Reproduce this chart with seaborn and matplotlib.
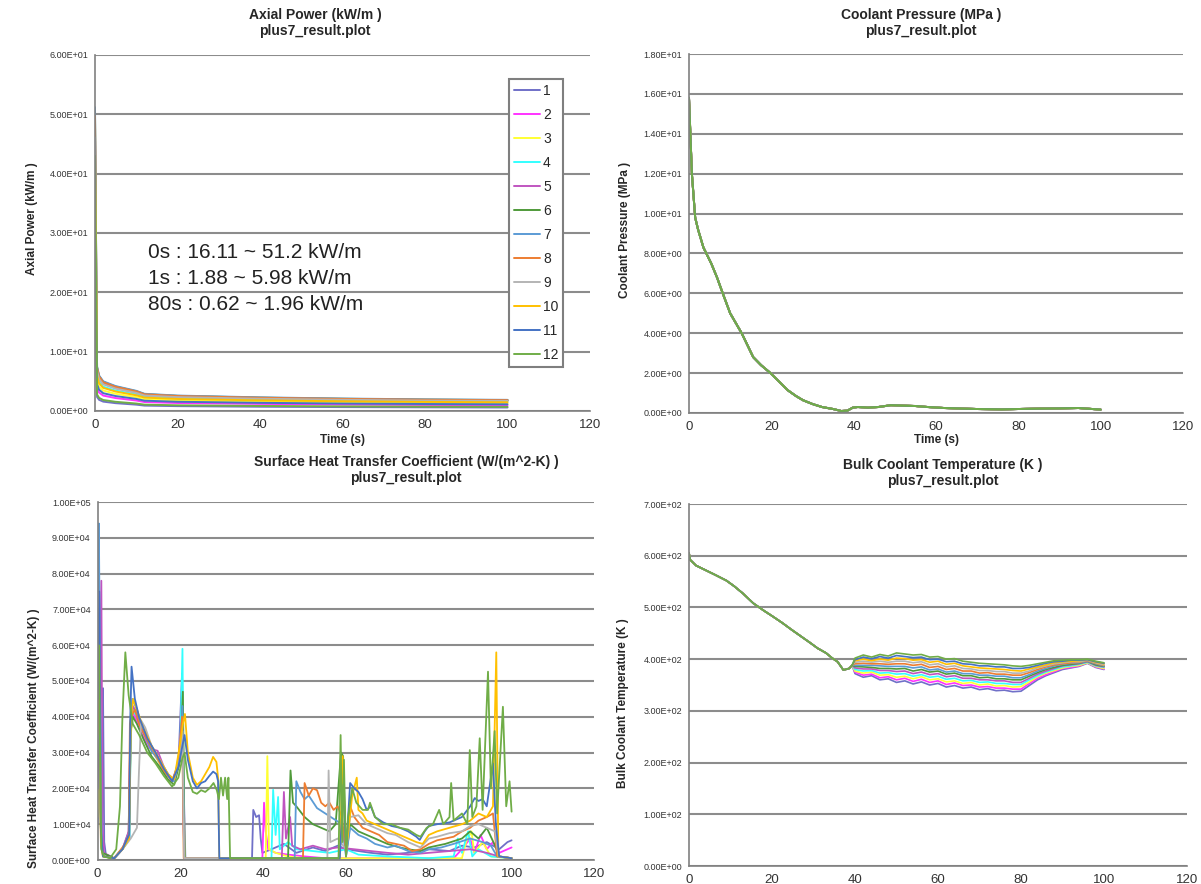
import numpy as np
import seaborn as sns
import matplotlib
matplotlib.use("Agg")
import matplotlib.pyplot as plt
from matplotlib.ticker import FuncFormatter, MultipleLocator

sns.set_style("white")
plt.rcParams['font.family'] = ['Liberation Sans', 'DejaVu Sans']

nodes = ['1', '2', '3', '4', '5', '6', '7', '8', '9', '10', '11', '12']
node_colors = ['#7070C8', '#FF33FF', '#FFFF33', '#33FFFF', '#C055C0', '#4F9A3A',
               '#5B9BD5', '#ED7D31', '#B4B4B4', '#FFC000', '#4472C4', '#70AD47']

# ---- axial power (kW/m) ----
ap_time = [0, 0.5, 1, 2, 5, 10, 12, 20, 40, 60, 80, 100]
ap_1 = [16.11, 2.36, 1.88, 1.58, 1.32, 1.07, 0.91, 0.82, 0.72, 0.66, 0.62, 0.59]
ap_2 = [26.6, 3.9, 3.11, 2.6, 2.18, 1.77, 1.51, 1.35, 1.2, 1.09, 1.02, 0.98]
ap_3 = [35.3, 5.18, 4.13, 3.45, 2.9, 2.35, 2.0, 1.79, 1.59, 1.45, 1.35, 1.3]
ap_4 = [42.0, 6.15, 4.9, 4.1, 3.44, 2.79, 2.38, 2.13, 1.89, 1.72, 1.61, 1.54]
ap_5 = [47.1, 6.9, 5.5, 4.6, 3.86, 3.13, 2.67, 2.39, 2.12, 1.93, 1.8, 1.73]
ap_6 = [50.2, 7.35, 5.86, 4.9, 4.12, 3.33, 2.84, 2.55, 2.25, 2.06, 1.92, 1.84]
ap_7 = [51.2, 7.5, 5.98, 5.0, 4.2, 3.4, 2.9, 2.6, 2.3, 2.1, 1.96, 1.88]
ap_8 = [49.7, 7.28, 5.8, 4.85, 4.07, 3.3, 2.81, 2.52, 2.23, 2.04, 1.9, 1.82]
ap_9 = [46.1, 6.75, 5.38, 4.5, 3.78, 3.06, 2.61, 2.34, 2.07, 1.89, 1.76, 1.69]
ap_10 = [39.9, 5.85, 4.66, 3.9, 3.28, 2.65, 2.26, 2.03, 1.79, 1.64, 1.53, 1.47]
ap_11 = [30.7, 4.5, 3.59, 3.0, 2.52, 2.04, 1.74, 1.56, 1.38, 1.26, 1.18, 1.13]
ap_12 = [43.0, 2.78, 2.21, 1.85, 1.55, 1.26, 1.07, 0.96, 0.85, 0.78, 0.73, 0.7]
ap_vals = [ap_1, ap_2, ap_3, ap_4, ap_5, ap_6, ap_7, ap_8, ap_9, ap_10, ap_11, ap_12]

# ---- coolant pressure (MPa), same for every node ----
p_time = [0, 0.7, 1.5, 2.2, 3.5, 5.4, 6.8, 8.2, 10, 12.8, 15.6, 17.5, 19.8, 22, 24, 26, 27.7,
          30, 32.3, 35, 37, 38.5, 39.8, 41, 43.5, 46, 49, 52, 55, 58, 62, 66.7, 70, 76, 80,
          85, 90, 94.6, 100]
p_val = [15.8, 12.0, 9.8, 9.2, 8.3, 7.5, 6.8, 6.0, 5.0, 4.0, 2.8, 2.4, 2.0, 1.55, 1.14, 0.85,
         0.64, 0.45, 0.3, 0.2, 0.1, 0.12, 0.27, 0.3, 0.27, 0.3, 0.39, 0.37, 0.35, 0.3, 0.25,
         0.22, 0.2, 0.18, 0.2, 0.22, 0.23, 0.25, 0.17]

# ---- surface heat transfer coefficient, (time, value in 1e4 W/m2-K) ----
htc_1 = [(0, 1.0), (1.0, 3.0), (1.3, 4.8), (1.6, 0.5), (2, 0.15), (4, 0.05), (6, 0.3), (7.5, 0.8),
         (7.9, 3.6), (8.3, 4.2), (9, 4.1), (10, 3.8), (12, 3.3), (14, 2.9), (16, 2.5), (18, 2.2),
         (19.5, 2.6), (20.4, 5.2), (20.8, 2.0), (21.2, 0.05), (30, 0.05), (37.3, 0.05), (37.6, 1.4),
         (38.3, 1.2), (39, 1.25), (39.4, 0.6), (39.8, 0.2), (42, 0.3), (45, 0.45), (48, 0.2),
         (52, 0.35), (55, 0.25), (58, 0.4), (60, 0.3), (63, 0.25), (66, 0.2), (70, 0.15), (75, 0.2),
         (80, 0.3), (85, 0.25), (88, 0.4), (91, 0.35), (94, 0.5), (97, 0.3), (99, 0.5), (100, 0.55)]
htc_2 = [(0, 1.5), (0.5, 3.0), (1.0, 1.0), (1.5, 0.2), (2, 0.1), (4, 0.05), (6, 0.3), (7.5, 0.7),
         (7.9, 3.4), (8.4, 4.1), (9, 4.0), (10, 3.7), (12, 3.2), (14, 2.95), (16, 2.5), (18, 2.2),
         (19.5, 2.6), (20.5, 4.2), (20.9, 0.05), (30, 0.05), (39.8, 0.05), (40.2, 1.6), (40.6, 0.8),
         (41.2, 0.3), (43, 0.2), (46, 0.15), (50, 0.1), (55, 0.05), (60, 0.05), (70, 0.05),
         (86, 0.05), (88, 0.3), (90, 0.6), (91, 0.2), (92.5, 0.7), (94, 0.3), (95.5, 0.5),
         (97, 0.2), (99, 0.3), (100, 0.35)]
htc_3 = [(0, 1.2), (0.6, 2.5), (1.0, 0.5), (1.5, 0.1), (4, 0.05), (6, 0.3), (7.6, 0.6), (8.0, 3.4),
         (8.5, 4.3), (9.5, 4.1), (11, 3.6), (13, 3.1), (15, 2.7), (17, 2.35), (18.5, 2.25),
         (20, 3.0), (20.6, 4.4), (21.0, 0.05), (30, 0.05), (40.6, 0.05), (41.0, 2.9), (41.4, 0.3),
         (43, 0.2), (46, 0.1), (50, 0.05), (70, 0.05), (88, 0.05), (89, 0.5), (90.3, 0.8),
         (91, 0.2), (93, 0.5), (95, 0.1), (100, 0.05)]
htc_4 = [(0, 2.0), (0.4, 3.5), (0.9, 0.5), (1.5, 0.1), (4, 0.05), (6, 0.3), (7.7, 0.6), (8.0, 3.8),
         (8.5, 4.2), (9.5, 4.0), (11, 3.6), (13, 3.1), (15, 2.8), (17, 2.4), (18.5, 2.2), (20, 3.2),
         (20.5, 5.9), (20.9, 0.05), (30, 0.05), (42, 0.05), (42.4, 1.96), (43, 0.7), (43.6, 1.76),
         (44, 0.3), (46, 0.5), (48, 0.3), (52, 0.25), (56, 0.2), (60, 0.3), (63, 0.15), (70, 0.1),
         (80, 0.05), (86, 0.1), (87, 0.6), (88, 0.2), (89.5, 0.8), (90.5, 0.1), (92, 0.3),
         (95, 0.1), (100, 0.05)]
htc_5 = [(0, 2.0), (0.5, 4.5), (0.9, 7.8), (1.2, 1.0), (1.5, 0.2), (4, 0.05), (6, 0.3), (7.6, 0.8),
         (8.0, 3.7), (8.5, 4.3), (9.5, 4.1), (11, 3.6), (13, 3.1), (14.5, 3.05), (16, 2.6),
         (18, 2.2), (19.8, 2.8), (20.5, 3.9), (20.9, 0.05), (30, 0.05), (44.5, 0.05), (45, 1.9),
         (45.5, 0.6), (46.5, 1.2), (47, 0.4), (49, 0.3), (52, 0.4), (55, 0.3), (58, 0.35),
         (62, 0.3), (66, 0.25), (70, 0.2), (75, 0.15), (80, 0.2), (85, 0.25), (90, 0.3),
         (94, 0.2), (97, 0.1), (100, 0.05)]
htc_6 = [(0, 3.0), (0.3, 4.5), (0.7, 1.0), (1.2, 0.2), (4, 0.05), (6, 0.3), (7.6, 0.7), (8.0, 3.6),
         (8.5, 4.0), (9.5, 3.8), (11, 3.4), (13, 2.9), (15, 2.6), (17, 2.25), (18.5, 2.1), (20, 2.8),
         (20.6, 4.7), (21.0, 0.05), (30, 0.05), (46, 0.05), (46.6, 2.5), (47.2, 1.6), (48, 1.5),
         (50, 1.2), (52, 1.0), (54, 0.9), (56, 0.8), (57.5, 1.0), (58.8, 3.0), (59.3, 2.9),
         (60, 0.1), (61, 1.0), (63, 0.8), (65, 0.7), (67, 0.6), (70, 0.45), (73, 0.35), (75, 0.3),
         (78, 0.25), (80, 0.35), (84, 0.45), (88, 0.6), (90, 0.8), (92, 0.6), (94, 0.9), (96, 0.4),
         (97, 0.1), (100, 0.05)]
htc_7 = [(0, 7.5), (0.3, 9.4), (0.6, 5.0), (1.0, 0.3), (1.5, 0.1), (4, 0.05), (6, 0.3), (7.7, 0.6),
         (8.0, 3.9), (8.4, 4.5), (9.5, 4.2), (11, 3.6), (13, 3.05), (15, 2.75), (17, 2.35),
         (18.5, 2.2), (20, 3.0), (20.5, 4.3), (20.9, 0.05), (30, 0.05), (47.6, 0.05), (48.0, 2.2),
         (49, 1.9), (50, 1.7), (51, 1.8), (53, 1.45), (55, 1.3), (57, 1.15), (59, 1.0), (60, 0.1),
         (61, 0.9), (63, 0.7), (65, 0.6), (67, 0.45), (70, 0.35), (72, 0.4), (75, 0.25), (78, 0.2),
         (80, 0.3), (83, 0.35), (86, 0.45), (90, 0.6), (93, 0.5), (95, 0.4), (96.5, 0.1),
         (100, 0.05)]
htc_8 = [(0, 4.0), (0.4, 6.0), (0.8, 0.5), (1.3, 0.1), (4, 0.05), (6, 0.35), (7.5, 0.6), (7.8, 3.8),
         (8.1, 4.0), (9, 4.2), (10, 3.8), (12, 3.35), (14, 2.95), (16, 2.5), (18, 2.2), (19.5, 2.7),
         (20.4, 4.0), (20.8, 0.05), (30, 0.05), (49.6, 0.05), (50, 2.15), (51, 1.8), (52, 2.0),
         (53, 1.95), (54, 1.6), (55, 1.5), (56, 1.6), (57, 1.4), (58, 1.5), (59, 1.2), (60, 0.2),
         (61, 1.5), (62, 1.2), (64, 0.9), (66, 0.8), (68, 0.7), (70, 0.5), (72, 0.45), (74, 0.4),
         (76, 0.25), (78, 0.3), (80, 0.45), (82, 0.55), (84, 0.6), (86, 0.65), (88, 0.8), (90, 0.9),
         (92, 1.1), (94, 1.2), (95.5, 1.3), (96.5, 0.1), (100, 0.05)]
htc_9 = [(0, 3.0), (0.4, 5.0), (0.8, 0.4), (1.3, 0.1), (4, 0.05), (6, 0.3), (8, 0.6), (9.5, 0.9),
         (10, 2.5), (10.5, 3.9), (11.5, 3.7), (13, 3.2), (15, 2.8), (17, 2.4), (18.5, 2.25), (20, 2.9),
         (20.5, 3.6), (20.9, 0.05), (30, 0.05), (55.5, 0.05), (55.8, 2.5), (56.2, 0.5), (58, 0.6),
         (60, 0.3), (61, 1.2), (63, 1.25), (65, 1.0), (67, 0.9), (70, 0.75), (72, 0.7), (75, 0.5),
         (78, 0.35), (80, 0.6), (82, 0.65), (85, 0.75), (88, 0.8), (90, 0.95), (92, 1.0), (94, 0.9),
         (96, 0.8), (96.8, 0.1), (100, 0.05)]
htc_10 = [(0, 3.5), (0.4, 5.5), (0.8, 0.5), (1.3, 0.1), (4, 0.05), (6, 0.3), (7.6, 0.6), (8.0, 3.9),
          (8.6, 4.5), (9.5, 4.2), (11, 3.7), (13, 3.2), (15, 2.8), (17, 2.4), (18.5, 2.25),
          (20, 3.3), (20.6, 3.8), (21.1, 4.08), (21.8, 3.0), (23, 2.3), (24, 2.1), (25, 2.2),
          (26, 2.4), (27, 2.6), (27.9, 2.88), (28.7, 2.74), (29.1, 2.3), (29.4, 0.05), (40, 0.05),
          (58.5, 0.05), (59.2, 2.9), (60, 0.2), (61.5, 1.8), (62.6, 2.3), (63, 1.4), (64, 1.3),
          (65, 1.1), (67, 1.0), (69, 0.9), (71, 0.8), (73, 0.7), (75, 0.6), (77, 0.5), (78.5, 0.45),
          (80, 0.7), (82, 0.8), (85, 0.9), (88, 1.0), (90, 1.1), (92, 1.3), (94, 1.2), (95.5, 1.5),
          (96.3, 5.8), (96.8, 0.1), (100, 0.05)]
htc_11 = [(0, 4.5), (0.4, 7.5), (0.8, 0.8), (1.3, 0.1), (4, 0.05), (6, 0.3), (7.6, 0.7), (7.9, 4.0),
          (8.2, 5.4), (9, 4.5), (10, 4.0), (12, 3.4), (14, 3.0), (16, 2.55), (18, 2.2), (19.5, 2.6),
          (20.5, 3.2), (21.0, 3.49), (21.8, 2.8), (23, 2.2), (24, 2.0), (25, 2.15), (26, 2.2),
          (27, 2.35), (27.9, 2.47), (28.7, 2.4), (29.1, 2.2), (29.4, 0.05), (40, 0.05), (58.5, 0.05),
          (59.4, 2.1), (60, 0.2), (61, 2.15), (62, 2.0), (63, 1.9), (64, 1.7), (65, 1.4), (66, 1.5),
          (67, 1.2), (69, 1.05), (71, 0.95), (73, 0.9), (75, 0.8), (77, 0.65), (77.8, 0.56),
          (79, 0.8), (80, 0.95), (82, 1.0), (85, 1.05), (88, 1.2), (90, 1.5), (91.1, 1.73),
          (92, 1.65), (93, 1.7), (94, 1.5), (95.5, 2.7), (96.2, 1.0), (97, 0.1), (100, 0.05)]
htc_12 = [(0, 5.0), (0.3, 6.0), (0.6, 3.0), (0.9, 0.3), (1.5, 0.1), (3, 0.05), (4.5, 0.3), (5.4, 1.5),
          (6.0, 4.0), (6.7, 5.8), (7.5, 4.6), (8.5, 3.8), (10, 3.5), (12, 3.0), (14, 2.7), (16, 2.35),
          (18, 2.05), (19.5, 2.3), (20.5, 2.85), (21.0, 2.99), (21.8, 2.3), (23, 1.9), (24, 1.85),
          (25, 1.95), (26, 1.9), (27, 2.0), (28, 2.15), (28.8, 1.95), (29.3, 1.7), (29.8, 2.3),
          (30.3, 1.8), (30.8, 2.3), (31.3, 1.7), (31.6, 2.3), (32.0, 0.05), (40, 0.05), (58.2, 0.05),
          (58.7, 3.49), (59.1, 0.5), (59.5, 2.8), (60, 0.1), (60.5, 1.2), (61.5, 2.0), (62.5, 1.6),
          (64, 1.4), (65.3, 1.4), (65.8, 1.6), (67, 1.2), (69, 1.0), (71, 1.0), (73, 0.9),
          (75, 0.85), (77, 0.7), (78, 0.65), (79.5, 0.9), (81, 1.0), (82.5, 1.4), (83.5, 1.0),
          (85, 1.2), (85.4, 2.15), (86, 1.1), (88, 1.3), (89.3, 1.0), (89.9, 3.07), (90.5, 1.2),
          (91.5, 1.5), (92.3, 3.4), (93, 1.4), (94.3, 5.26), (95.0, 2.0), (95.9, 3.6), (96.5, 1.3),
          (97.9, 4.28), (98.7, 1.5), (99.5, 2.2), (100, 1.35)]
htc_vals = [htc_1, htc_2, htc_3, htc_4, htc_5, htc_6, htc_7, htc_8, htc_9, htc_10, htc_11, htc_12]

# ---- bulk coolant temperature (K) ----
temp_early_time = [0, 0.3, 1.7, 4, 6.3, 9, 10.9, 13, 15.5, 18, 20.1, 22.5, 24.7, 27, 29.3, 31, 33,
                   34.5, 35.8, 37.2, 38.6, 39.3]
temp_early_val = [605, 592, 581, 572, 563, 552, 541, 527, 508, 494, 483, 470, 457, 444, 431, 421,
                  412, 402, 395, 379, 382, 388]
temp_late_time = [40, 42, 44, 46, 48, 50, 52, 54, 56, 58, 60, 62, 64, 66, 68, 70, 72, 74, 76, 78,
                  80, 82, 84, 86, 88, 90, 92, 94, 96, 98, 100]
temp_1 = [372, 365, 368, 360, 362, 355, 358, 352, 356, 350, 353, 346, 349, 344, 346, 341, 343, 339,
          340, 337, 338, 349, 360, 368, 374, 380, 383, 386, 392, 384, 380]
temp_2 = [375, 369, 371, 364, 366, 360, 363, 357, 361, 355, 358, 351, 354, 349, 350, 346, 347, 344,
          344, 342, 342, 353, 363, 370, 376, 382, 384, 387, 393, 385, 381]
temp_3 = [377, 373, 375, 369, 370, 365, 367, 362, 366, 360, 362, 356, 358, 353, 355, 350, 352, 348,
          349, 346, 347, 356, 366, 373, 378, 383, 386, 388, 393, 386, 382]
temp_4 = [380, 377, 378, 373, 374, 371, 372, 367, 370, 365, 367, 361, 363, 358, 359, 355, 356, 353,
          353, 351, 351, 360, 368, 375, 380, 385, 387, 390, 394, 387, 384]
temp_5 = [383, 381, 381, 378, 378, 376, 377, 372, 375, 370, 372, 366, 368, 363, 363, 360, 360, 358,
          358, 355, 355, 363, 371, 377, 382, 387, 389, 391, 395, 388, 385]
temp_6 = [386, 385, 384, 382, 382, 381, 382, 377, 380, 375, 377, 371, 373, 368, 368, 364, 365, 362,
          362, 360, 360, 367, 374, 380, 384, 388, 390, 392, 396, 389, 386]
temp_7 = [388, 388, 388, 387, 386, 386, 386, 383, 385, 379, 381, 375, 377, 372, 372, 369, 369, 367,
          367, 364, 364, 370, 377, 382, 387, 390, 392, 393, 396, 391, 387]
temp_8 = [391, 392, 391, 391, 390, 391, 391, 388, 390, 384, 386, 380, 382, 377, 377, 373, 374, 371,
          371, 369, 369, 374, 380, 385, 389, 391, 393, 394, 397, 392, 388]
temp_9 = [394, 396, 394, 396, 394, 396, 396, 393, 395, 389, 391, 385, 387, 382, 381, 378, 378, 376,
          376, 373, 373, 377, 383, 387, 391, 393, 395, 395, 398, 393, 389]
temp_10 = [397, 400, 397, 400, 398, 402, 401, 398, 399, 394, 396, 390, 392, 387, 385, 383, 382, 381,
           380, 378, 377, 381, 385, 389, 393, 395, 396, 397, 399, 394, 391]
temp_11 = [399, 404, 401, 405, 402, 407, 405, 403, 404, 399, 400, 395, 396, 391, 390, 387, 387, 385,
           385, 382, 382, 384, 388, 392, 395, 396, 398, 398, 399, 395, 392]
temp_12 = [402, 408, 404, 409, 406, 412, 410, 408, 409, 404, 405, 400, 401, 396, 394, 392, 391, 390,
           389, 387, 386, 388, 391, 394, 397, 398, 399, 399, 400, 396, 393]
temp_vals = [temp_1, temp_2, temp_3, temp_4, temp_5, temp_6, temp_7, temp_8, temp_9, temp_10,
             temp_11, temp_12]

W, H = 1201, 884
fig = plt.figure(figsize=(W / 100, H / 100), dpi=100)


def px_axes(left, right, top, bottom):
    return fig.add_axes([left / W, 1 - bottom / H, (right - left) / W, (bottom - top) / H])


def style(ax, ymax, ystep):
    ax.set_xlim(0, 120)
    ax.set_ylim(0, ymax)
    ax.xaxis.set_major_locator(MultipleLocator(20))
    ax.yaxis.set_major_locator(MultipleLocator(ystep))
    ax.yaxis.set_major_formatter(FuncFormatter(lambda v, _: f"{v:.2E}"))
    ax.grid(axis='y', color='#8c8c8c', lw=1.5)
    ax.set_axisbelow(True)
    for s in ['top', 'right']:
        ax.spines[s].set_visible(False)
    for s in ['left', 'bottom']:
        ax.spines[s].set_color('#808080')
        ax.spines[s].set_linewidth(1.2)
    ax.tick_params(axis='y', labelsize=6.5, length=3, color='#808080', pad=2, labelcolor='#333333')
    ax.tick_params(axis='x', labelsize=9.5, length=3, color='#808080', pad=3, labelcolor='#333333')
    ax.set_xlabel('')


def title(x, y, line1):
    fig.text(x / W, 1 - y / H, line1, ha='center', va='center', fontsize=10, fontweight='bold')
    fig.text(x / W, 1 - (y + 16) / H, 'plus7_result.plot', ha='center', va='center',
             fontsize=10, fontweight='bold')


# top left: axial power
ax1 = px_axes(95, 590, 55, 411)
for name, col, vals in zip(nodes, node_colors, ap_vals):
    sns.lineplot(x=ap_time, y=vals, ax=ax1, color=col, lw=1.4, sort=False, estimator=None)
style(ax1, 60, 10)
ax1.set_ylabel('Axial Power (kW/m )', fontsize=8.5, fontweight='bold')
ax1.yaxis.set_label_coords(-0.115, 0.54)
leg = ax1.legend(ax1.lines[:12], nodes, loc='upper left', bbox_to_anchor=(509 / W, 1 - 79 / H),
                 bbox_transform=fig.transFigure, frameon=True, fancybox=False, framealpha=1,
                 edgecolor='#7f7f7f', fontsize=10, handlelength=1.9, handletextpad=0.2,
                 labelspacing=0.72, borderpad=0.35, borderaxespad=0)
leg.get_frame().set_linewidth(1.5)
title(315, 15, 'Axial Power (kW/m )')
fig.text(342 / W, 1 - 440 / H, 'Time (s)', ha='center', va='center', fontsize=8.5, fontweight='bold')
for i, line in enumerate(['0s : 16.11 ~ 51.2 kW/m', '1s : 1.88 ~ 5.98 kW/m', '80s : 0.62 ~ 1.96 kW/m']):
    fig.text(148 / W, 1 - (253 + 26 * i) / H, line, ha='left', va='center', fontsize=15, color='#222222')

# top right: coolant pressure
ax2 = px_axes(689, 1183, 54, 413)
for name, col in zip(nodes, node_colors):
    sns.lineplot(x=p_time, y=p_val, ax=ax2, color=col, lw=1.4, sort=False, estimator=None)
style(ax2, 18, 2)
ax2.set_ylabel('Coolant Pressure (MPa )', fontsize=8.5, fontweight='bold')
ax2.yaxis.set_label_coords(-0.117, 0.51)
title(921, 15, 'Coolant Pressure (MPa )')
fig.text(936 / W, 1 - 440 / H, 'Time (s)', ha='center', va='center', fontsize=8.5, fontweight='bold')

# bottom left: heat transfer coefficient
ax3 = px_axes(97.6, 594.4, 502, 860)
for name, col, pts in zip(nodes, node_colors, htc_vals):
    t, v = zip(*pts)
    sns.lineplot(x=list(t), y=np.array(v) * 1e4, ax=ax3, color=col, lw=1.3, sort=False, estimator=None)
style(ax3, 1e5, 1e4)
ax3.set_ylabel('Surface Heat Transfer Coefficient (W/(m^2-K) )', fontsize=8.5, fontweight='bold')
ax3.yaxis.set_label_coords(-0.116, 0.34)
title(406, 462, 'Surface Heat Transfer Coefficient (W/(m^2-K) )')

# bottom right: bulk coolant temperature
ax4 = px_axes(689, 1187, 504, 866)
for name, col, late in zip(nodes, node_colors, temp_vals):
    sns.lineplot(x=temp_early_time + temp_late_time, y=temp_early_val + late, ax=ax4, color=col,
                 lw=1.2, sort=False, estimator=None)
style(ax4, 700, 100)
ax4.set_ylabel('Bulk Coolant Temperature (K )', fontsize=8.5, fontweight='bold')
ax4.yaxis.set_label_coords(-0.12, 0.45)
title(943, 465, 'Bulk Coolant Temperature (K )')

fig.savefig('out.png', dpi=100)
